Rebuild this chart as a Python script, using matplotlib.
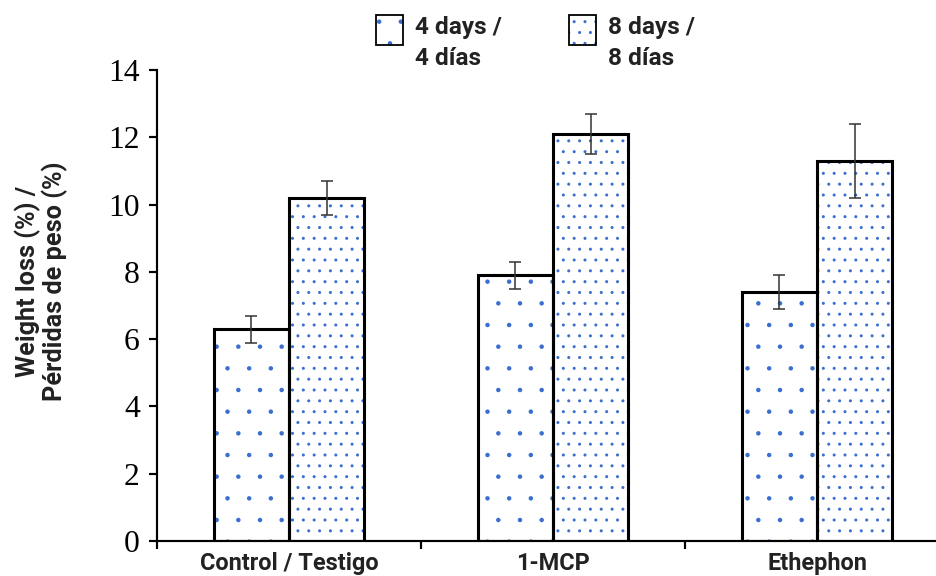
import matplotlib
matplotlib.use("Agg")
import matplotlib.pyplot as plt
import matplotlib.hatch as mhatch
import numpy as np
from matplotlib.patches import Rectangle

categories = ["Control / Testigo", "1-MCP", "Ethephon"]
days4 = [6.3, 7.9, 7.4]
days4_err = [0.4, 0.4, 0.5]
days8 = [10.2, 12.1, 11.3]
days8_err = [0.5, 0.6, 1.1]
series_labels = ["4 days /\n4 días", "8 days /\n8 días"]
yticks = [0, 2, 4, 6, 8, 10, 12, 14]

DPI = 130
bold_font = ['Roboto', 'DejaVu Sans']
HATCH_BLUE = '#3a6fcf'
hatches = ['.', '..']
plt.rcParams['hatch.linewidth'] = 0.9
mhatch.SmallFilledCircles.size = 0.065

fig = plt.figure(figsize=(936/DPI, 576/DPI), dpi=DPI)
ax = fig.add_axes([157/936, 1-541/576, 792/936, 471/576])

x = np.arange(len(categories))
w = 0.285
for offs, vals, errs, h in [(-w/2, days4, days4_err, hatches[0]),
                            (w/2, days8, days8_err, hatches[1])]:
    ax.bar(x + offs, vals, w, color='white', edgecolor=HATCH_BLUE, linewidth=0,
           hatch=h, zorder=2)
    ax.bar(x + offs, vals, w, fill=False, edgecolor='black', linewidth=1.7, zorder=3)
    ax.errorbar(x + offs, vals, yerr=errs, fmt='none', ecolor='#333333',
                elinewidth=0.85, capsize=3.2, capthick=0.85, zorder=4)

ax.set_xlim(-0.5, 2.5)
ax.set_ylim(0, 14)
ax.set_yticks(yticks)
ax.set_yticklabels([str(v) for v in yticks], fontfamily='Liberation Serif', fontsize=17.5)
ax.set_xticks([-0.5, 0.5, 1.5])
ax.set_xticklabels([])
ax.tick_params(axis='y', direction='out', length=4.5, width=1.2, pad=5)
ax.tick_params(axis='x', direction='out', length=4.5, width=1.2)
for i, c in enumerate(categories):
    ax.text(i, -0.33, c, ha='center', va='top', fontsize=13, fontweight='bold',
            family=bold_font, color='#222222')
for s in ['top', 'right']:
    ax.spines[s].set_visible(False)
for s in ['left', 'bottom']:
    ax.spines[s].set_linewidth(1.2)
ax.spines['bottom'].set_zorder(5)

ax.set_ylabel("Weight loss (%) /\nPérdidas de peso (%)", fontsize=14,
              fontweight='bold', family=bold_font, linespacing=1.0, color='#222222')
ax.yaxis.set_label_coords(-0.113, 0.552)

# legend (manual layout)
leg_x = [376, 569]
txt_x = [415, 608]
for lx, tx, h, lab in zip(leg_x, txt_x, hatches, series_labels):
    r1 = Rectangle((lx/936, 1-45/576), 27/936, 30/576, transform=fig.transFigure,
                   facecolor='white', edgecolor=HATCH_BLUE, linewidth=0, hatch=h)
    r2 = Rectangle((lx/936, 1-45/576), 27/936, 30/576, transform=fig.transFigure,
                   fill=False, edgecolor='black', linewidth=1.0)
    fig.add_artist(r1)
    fig.add_artist(r2)
    fig.text(tx/936, 1-16/576, lab, ha='left', va='top', fontsize=13.5,
             fontweight='bold', family=bold_font, linespacing=1.45, color='#222222')

fig.savefig("out.png", dpi=DPI)
